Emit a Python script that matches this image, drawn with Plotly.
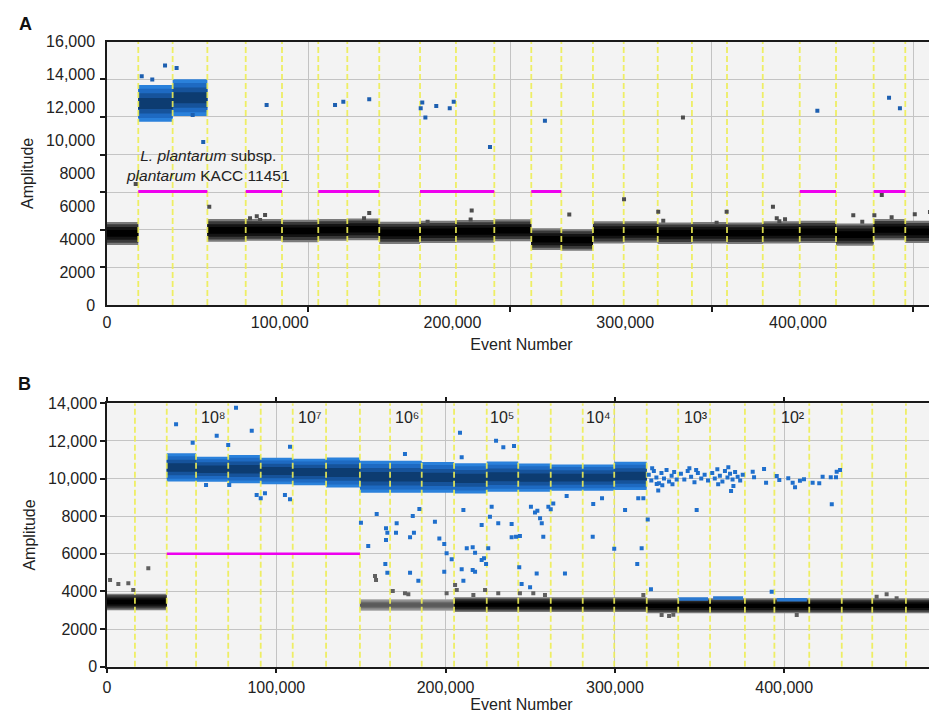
import plotly.graph_objects as go

# ================= Panel A data =================
a_well_edges = [0, 18100, 38000, 58100, 80300, 101300, 122300, 139100, 157600, 181200,
                202000, 224200, 245600, 263000, 281300, 299100, 318800, 338600, 358900,
                379600, 401000, 422000, 443800, 462100, 480000]
a_neg_amp = [4350, None, None, 4530, 4560, 4500, 4560, 4600, 4380, 4440, 4480, 4540,
             4000, 3950, 4410, 4440, 4360, 4390, 4360, 4410, 4440, 4280, 4580, 4440]
a_neg_half = [700, 0, 0, 690, 660, 680, 660, 660, 680, 680, 690, 670,
              660, 660, 680, 650, 660, 650, 660, 680, 680, 680, 650, 680]
a_pos_amp = [None, 12250, 12600] + [None] * 21
a_pos_half = [0, 1115, 1115] + [0] * 21
a_threshold = 6900
a_threshold_wells = [[1, 2], [4, 4], [6, 7], [9, 10], [12, 12], [20, 20], [22, 22]]

a_rain_pos_x = [20100, 26200, 33600, 40300, 49600, 55700, 92400, 132000, 136800, 151800,
                181600, 182500, 184300, 190600, 198400, 200700, 221700, 253500, 411200,
                452700, 459000]
a_rain_pos_y = [13900, 13700, 14550, 14400, 11550, 9900, 12150, 12150, 12350, 12500,
                11950, 12300, 11400, 12100, 11950, 12350, 9600, 11200, 11800, 12600, 11950]
a_rain_neg_x = [16600, 59200, 82800, 86700, 91500, 88600, 151800, 148800, 185600, 211100,
                210500, 267600, 333400, 299300, 319100, 322000, 352900, 358700, 385500,
                387700, 389200, 392500, 432000, 437200, 444200, 448500, 454200, 467600, 476400]
a_rain_neg_y = [7350, 5970, 5270, 5400, 5470, 5170, 5590, 5270, 5060, 5750,
                5200, 5500, 11400, 6420, 5670, 5120, 5000, 5670, 5970,
                5270, 5090, 5210, 5450, 5060, 5450, 6680, 5330, 5510, 5650]

a_xtick_vals = [0, 100000, 200000, 300000, 400000]
a_xtick_text = ["0", "100,000", "200,000", "300,000", "400,000"]
a_ytick_vals = [0, 2000, 4000, 6000, 8000, 10000, 12000, 14000, 16000]
a_ytick_text = ["0", "2000", "4000", "6000", "8000", "10,000", "12,000", "14,000", "16,000"]
a_x_grid = [116400, 233300, 350200, 466600]
a_strain_label = "<i>L. plantarum</i> subsp.<br><i>plantarum</i> KACC 11451"
a_strain_label_pos = [58500, 8450]

# ================= Panel B data =================
b_well_edges = [0, 16500, 35300, 52600, 71600, 90800, 109700, 129400, 149400, 167200,
                185900, 205000, 224300, 242900, 262100, 281000, 299600, 318800, 337400,
                356200, 376800, 394200, 414800, 434000, 452000, 471900, 489700]
b_neg_amp = [3440, 3440, None, None, None, None, None, None, 3280, 3280, 3280,
             3300, 3300, 3300, 3300, 3300, 3300, 3240, 3240, 3240, 3240, 3240, 3240,
             3240, 3240, 3240]
b_neg_half = [440, 440, 0, 0, 0, 0, 0, 0, 300, 300, 300, 390, 390, 390, 390, 390, 390,
              400, 400, 400, 400, 400, 400, 400, 400, 400]
b_pos_amp = [None, None, 10590, 10500, 10500, 10400, 10350, 10320, 10100, 10100, 10060,
             10010, 10100, 10050, 10050, 10050, 10140] + [None] * 9
b_pos_half = [0, 0, 750, 665, 750, 700, 700, 800, 850, 850, 820, 800, 800, 750, 700,
              700, 750] + [0] * 9
b_threshold = 6000
b_threshold_wells = [[2, 7]]

b_rain_pos_x = [40800, 50600, 64800, 76200, 85500, 71600, 108100, 88400, 90800, 93300,
                105100, 108100, 58500, 72200,
                150000, 154300, 159300, 164800, 165600, 164800, 164400, 165600, 171100, 170700,
                179000, 181300, 179000, 183900, 180600, 184500, 176000, 193700, 196300, 199200,
                200600, 199200, 203600, 208500, 209500, 210500, 209500, 210500, 212500, 216000,
                217400, 216000, 217400, 221300, 222700, 223900, 225200, 226200, 221300, 227200,
                229800, 234100, 240400, 231100, 239000, 239000, 241600, 243900, 243500, 244900,
                249900, 250400, 252800, 254200, 255800, 256800, 257700, 253800, 260700, 262100,
                263600, 270500, 271500, 287200, 286900, 292400, 299600,
                306000, 313800, 316800, 315800, 313200, 319400, 321300, 392600, 348300, 325600,
                368600,
                320000, 321500, 323000, 324500, 326000, 327500, 329000, 330500, 332000, 333500,
                335000, 336500, 322000, 328000, 334000, 324700,
                339000, 341000, 343000, 345000, 347000, 349000, 351000, 353000, 355000, 344000,
                348000,
                357500, 359000, 360500, 362000, 363500, 365000, 366500, 368000, 369500, 371000,
                372500, 374000, 375500, 361000, 367000, 370000,
                381400, 382200, 388100, 389300, 395600, 397100, 402400, 405000, 406400, 409300,
                411700, 416800, 420700, 422700, 427500, 431000, 433000, 430600, 428100]
b_rain_pos_y = [12880, 11900, 12280, 13770, 12540, 11780, 11690, 9130, 8950, 9220,
                9130, 8900, 9660, 9660,
                7650, 6420, 8120, 7360, 7120, 6730, 5460, 5000, 7620, 7120,
                6880, 7120, 5000, 4570, 8010, 8380, 11300, 7710, 6820, 6520,
                6030, 5050, 5710, 12440, 11130, 8330, 5180, 4570, 6290, 6350,
                6060, 5140, 5050, 5670, 5760, 5460, 6290, 7970, 7530, 8500,
                12010, 11660, 11730, 7620, 7580, 6880, 6910, 6950, 5280, 4400,
                4220, 8500, 8190, 8290, 7890, 7620, 6910, 4960, 8500, 8370,
                8680, 4960, 9070, 8650, 6910, 8950, 6270,
                8330, 8950, 8950, 6290, 5460, 7830, 4110, 3990, 8330, 9360,
                9340,
                10200, 9900, 10400, 10050, 9750, 10300, 10000, 10450, 9850, 10150,
                10350, 9950, 10550, 9650, 9700, 9710,
                10250, 9950, 10400, 10100, 9800, 10300, 10000, 10200, 9900, 10550,
                10450,
                10300, 10000, 10500, 10150, 9850, 10400, 10050, 10250, 9950, 10350,
                10100, 9900, 10200, 9700, 10600, 9600,
                10360, 10070, 10510, 9780, 10140, 9920, 10010, 9780, 9540, 9890,
                9960, 9780, 9750, 10100, 10070, 10360, 10460, 10070, 8630]
b_rain_neg_x = [1800, 6700, 12600, 15500, 24400, 158300, 158900, 168800, 176000, 178000,
                200600, 205600, 206600, 216400, 223300, 231100, 243900, 251800, 258700,
                316800, 454600, 460500, 466400, 327600, 332000, 334500, 407400]
b_rain_neg_y = [4610, 4400, 4430, 4080, 5230, 4820, 4610, 4020, 3900, 3850,
                3900, 4340, 4080, 3810, 4080, 3900, 3900, 3900, 3810,
                3810, 3720, 3850, 3635, 2750, 2700, 2760, 2750]
b_low_pos_start = [337400, 358000, 395700]
b_low_pos_end = [355000, 375700, 413400]
b_low_pos_lo = [3510, 3560, 3470]
b_low_pos_hi = [3690, 3740, 3650]

b_dilution_text = ["10⁸", "10⁷", "10⁶", "10⁵", "10⁴", "10³", "10²"]
b_dilution_wells = [[2, 4], [5, 7], [8, 10], [11, 13], [14, 16], [17, 19], [20, 22]]
b_dilution_amp = 13250
b_xtick_vals = [0, 100000, 200000, 300000, 400000]
b_xtick_text = ["0", "100,000", "200,000", "300,000", "400,000"]
b_ytick_vals = [0, 2000, 4000, 6000, 8000, 10000, 12000, 14000]
b_ytick_text = ["0", "2000", "4000", "6000", "8000", "10,000", "12,000", "14,000"]

# ================= styling =================
FONT = "Liberation Sans, Arial, sans-serif"
TXT = "#222222"
BLACK_SHADES = ["#7a7a7a", "#3a3a3a", "#141414", "#000000"]
DIM_SHADES = ["#a2a2a2", "#858585", "#6c6c6c", "#5a5a5a"]
BLUE_SHADES = ["#2b81db", "#1f6bc2", "#17549c", "#0e3c72"]
FRACS = [1.0, 0.8, 0.55, 0.3]
YELLOW = "#eeee55"
MAGENTA = "#ee00ee"
GRID = "#c4c4c4"

# The page puts the figure 8px in from the top-left (default body margin),
# so figure coordinates are the photographed coordinates minus 8.
W, H = 937.0, 717.0
ML, MR = 99, 9
PLOT_W = W - ML - MR
A_X_MAX = PLOT_W / 1.7275e-3     # panel A: 1.7275 px per 1000 events
B_X_MAX = PLOT_W / 1.693e-3      # panel B: 1.693 px per 1000 events
A_Y_MAX, B_Y_MAX = 16000, 14000

fig = go.Figure()


def add_bands(edges, centers, halves, wells, shades, xa, ya):
    for frac, col in zip(FRACS, shades):
        xs, ys = [], []
        for i in wells:
            c = centers[i]
            if c is None:
                continue
            h = halves[i] * frac
            x0, x1 = edges[i], edges[i + 1]
            xs += [x0, x1, x1, x0, x0, None]
            ys += [c - h, c - h, c + h, c + h, c - h, None]
        if xs:
            fig.add_trace(go.Scatter(x=xs, y=ys, mode="lines", fill="toself",
                                     fillcolor=col, line=dict(width=0),
                                     hoverinfo="skip", showlegend=False,
                                     xaxis=xa, yaxis=ya))


def add_yellow(edges, ymax, xa, ya):
    xs, ys = [], []
    for e in edges[1:-1]:
        xs += [e, e, None]
        ys += [0, ymax, None]
    fig.add_trace(go.Scatter(x=xs, y=ys, mode="lines",
                             line=dict(color=YELLOW, width=1.8, dash="6px,3px"),
                             opacity=0.9, hoverinfo="skip", showlegend=False,
                             xaxis=xa, yaxis=ya))


def add_threshold(edges, wells, amp, width, xa, ya):
    xs, ys = [], []
    for w0, w1 in wells:
        xs += [edges[w0], edges[w1 + 1], None]
        ys += [amp, amp, None]
    fig.add_trace(go.Scatter(x=xs, y=ys, mode="lines",
                             line=dict(color=MAGENTA, width=width),
                             hoverinfo="skip", showlegend=False, xaxis=xa, yaxis=ya))


def add_points(xs, ys, color, xa, ya, size=4):
    fig.add_trace(go.Scatter(x=xs, y=ys, mode="markers",
                             marker=dict(color=color, size=size, symbol="square",
                                         line=dict(width=0)),
                             hoverinfo="skip", showlegend=False, xaxis=xa, yaxis=ya))


# ---- Panel A ----
na = len(a_well_edges) - 1
add_bands(a_well_edges, a_neg_amp, a_neg_half, range(na), BLACK_SHADES, "x", "y")
add_bands(a_well_edges, a_pos_amp, a_pos_half, range(na), BLUE_SHADES, "x", "y")
add_yellow(a_well_edges, A_Y_MAX, "x", "y")
add_points(a_rain_neg_x, a_rain_neg_y, "#4d4d4d", "x", "y")
add_points(a_rain_pos_x, a_rain_pos_y, "#1d5fb0", "x", "y")
add_threshold(a_well_edges, a_threshold_wells, a_threshold, 3, "x", "y")

# ---- Panel B ----
nb = len(b_well_edges) - 1
dim_wells = [8, 9, 10]
add_bands(b_well_edges, b_neg_amp, b_neg_half, [i for i in range(nb) if i not in dim_wells],
          BLACK_SHADES, "x2", "y2")
add_bands(b_well_edges, b_neg_amp, b_neg_half, dim_wells, DIM_SHADES, "x2", "y2")
add_bands(b_well_edges, b_pos_amp, b_pos_half, range(nb), BLUE_SHADES, "x2", "y2")
xs, ys = [], []
for s, e, lo, hi in zip(b_low_pos_start, b_low_pos_end, b_low_pos_lo, b_low_pos_hi):
    xs += [s, e, e, s, s, None]
    ys += [lo, lo, hi, hi, lo, None]
fig.add_trace(go.Scatter(x=xs, y=ys, mode="lines", fill="toself", fillcolor="#2a78d0",
                         line=dict(width=0), hoverinfo="skip", showlegend=False,
                         xaxis="x2", yaxis="y2"))
add_yellow(b_well_edges, B_Y_MAX, "x2", "y2")
add_points(b_rain_neg_x, b_rain_neg_y, "#606060", "x2", "y2")
add_points(b_rain_pos_x, b_rain_pos_y, "#1f6fcc", "x2", "y2")
add_threshold(b_well_edges, b_threshold_wells, b_threshold, 2.6, "x2", "y2")

annotations = []
for txt, (w0, w1) in zip(b_dilution_text, b_dilution_wells):
    annotations.append(dict(x=(b_well_edges[w0] + b_well_edges[w1 + 1]) / 2, y=b_dilution_amp,
                            xref="x2", yref="y2", text=txt, showarrow=False,
                            xanchor="center", yanchor="middle",
                            font=dict(family=FONT, size=16, color=TXT)))
annotations.append(dict(x=a_strain_label_pos[0], y=a_strain_label_pos[1], xref="x", yref="y",
                        text=a_strain_label, showarrow=False, xanchor="center",
                        yanchor="middle",
                        font=dict(family=FONT, size=15.5, color=TXT)))
annotations.append(dict(x=(17 - ML) / PLOT_W, y=1 - 15.5 / H, xref="paper", yref="paper",
                        text="<b>A</b>", showarrow=False, xanchor="center", yanchor="middle",
                        font=dict(family=FONT, size=18, color="#111")))
annotations.append(dict(x=(16.5 - ML) / PLOT_W, y=1 - 376.5 / H, xref="paper", yref="paper",
                        text="<b>B</b>", showarrow=False, xanchor="center", yanchor="middle",
                        font=dict(family=FONT, size=18, color="#111")))

axis_common = dict(showline=True, linecolor="#1a1a1a", linewidth=1.5, zeroline=False,
                   automargin=False,
                   tickfont=dict(family=FONT, size=16, color=TXT), tickmode="array")
minor_common = dict(tickmode="array", ticks="outside", ticklen=5, tickcolor="#1a1a1a",
                    tickwidth=1.5, showgrid=True, gridcolor=GRID, gridwidth=1)
title_font = dict(family=FONT, size=16, color=TXT)

a_y_grid = [A_Y_MAX * k / 7 for k in range(1, 7)]

fig.update_layout(
    width=W, height=H,
    margin=dict(l=ML, r=MR, t=0, b=0),
    paper_bgcolor="white", plot_bgcolor="#f3f3f3",
    font=dict(family=FONT, color=TXT),
    showlegend=False,
    annotations=annotations,
    xaxis=dict(axis_common, domain=[0, 1], anchor="y", range=[0, A_X_MAX],
               tickvals=a_xtick_vals, ticktext=a_xtick_text, ticks="outside", ticklen=0,
               showgrid=False, mirror=True, ticklabelstandoff=2,
               minor=dict(minor_common, tickvals=a_x_grid),
               title=dict(text="Event Number", font=title_font, standoff=9)),
    yaxis=dict(axis_common, domain=[420 / H, 683.3 / H], anchor="x", range=[0, A_Y_MAX],
               tickvals=a_ytick_vals, ticktext=a_ytick_text, ticks="outside", ticklen=0,
               showgrid=False, ticklabelstandoff=7,
               minor=dict(minor_common, tickvals=a_y_grid),
               title=dict(text="Amplitude", font=title_font, standoff=9)),
    xaxis2=dict(axis_common, domain=[0, 1], anchor="y2", range=[0, B_X_MAX],
                tickvals=b_xtick_vals, ticktext=b_xtick_text, ticks="outside", ticklen=5,
                tickcolor="#1a1a1a", tickwidth=1.5, showgrid=True, gridcolor=GRID,
                mirror="ticks", ticklabelstandoff=0,
                title=dict(text="Event Number", font=title_font, standoff=3)),
    yaxis2=dict(axis_common, domain=[58.3 / H, 321.7 / H], anchor="x2", range=[0, B_Y_MAX],
                tickvals=b_ytick_vals, ticktext=b_ytick_text, ticks="outside", ticklen=5,
                tickcolor="#1a1a1a", tickwidth=1.5, showgrid=True, gridcolor=GRID,
                title=dict(text="Amplitude", font=title_font, standoff=9)),
)

fig.write_html("out.html")
